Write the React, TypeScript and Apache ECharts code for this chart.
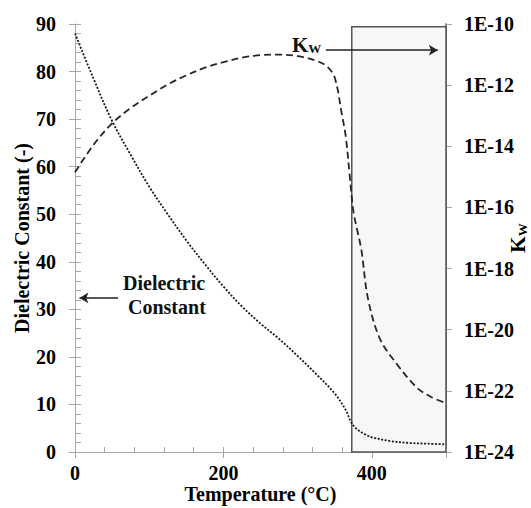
import React, { useEffect, useRef } from "react";
import * as echarts from "echarts";

// Dielectric constant of water vs temperature (°C)
const epsTemps = [0, 25, 50, 75, 100, 125, 150, 175, 200, 225, 250, 275, 300, 325, 350, 365, 372, 380, 390, 400, 425, 450, 475, 500];
const epsValues = [88, 78.5, 69.6, 62.5, 55.8, 50, 44.5, 39.5, 34.8, 30.6, 27.0, 23.8, 20.2, 16.4, 12.3, 8.8, 6.3, 4.8, 3.8, 3.1, 2.3, 1.9, 1.75, 1.6];

// Ionic product of water, stored as log10(Kw)
const kwTemps = [0, 25, 50, 75, 100, 125, 150, 175, 200, 225, 250, 275, 300, 325, 340, 350, 360, 365, 370, 375, 380, 386, 395, 411, 433, 461, 480, 500];
const log10Kw = [-14.85, -13.95, -13.25, -12.75, -12.35, -11.98, -11.68, -11.43, -11.25, -11.1, -11.02, -11.0, -11.05, -11.2, -11.4, -11.75, -13.0, -13.7, -14.9, -16.1, -16.7, -17.4, -19.0, -20.3, -21.1, -21.9, -22.2, -22.4];

// Supercritical region (°C) and axis extents
const criticalTemp = 373;
const xMax = 500;
const epsMax = 90;
const kwMinExp = -24;
const kwMaxExp = -10;

const FONT = "'Liberation Serif', 'Times New Roman', serif";

export default function App() {
  const ref = useRef<HTMLDivElement>(null);
  useEffect(() => {
    if (!ref.current) return;
    const chart = echarts.init(ref.current, null, { renderer: "svg" });
    const epsData = epsTemps.map((t, i) => [t, epsValues[i]]);
    const kwData = kwTemps.map((t, i) => [t, log10Kw[i]]);
    const axisGray = "#a8a8a8";
    const labelStyle = { color: "#000", fontFamily: FONT, fontWeight: "bold" as const, fontSize: 20 };

    chart.setOption({
      animation: false,
      backgroundColor: "#fff",
      grid: { left: 75, right: 85, top: 24, bottom: 56, outerBoundsMode: "none" },
      xAxis: [
        {
          type: "value", min: 0, max: xMax, interval: 200, position: "bottom",
          name: "Temperature (°C)", nameLocation: "middle", nameGap: 32, nameMoveOverlap: false,
          nameTextStyle: { ...labelStyle, fontSize: 20 },
          axisLine: { show: true, lineStyle: { color: axisGray, width: 1 } },
          axisTick: { show: true, inside: false, length: 6, lineStyle: { color: axisGray } },
          axisLabel: {
            ...labelStyle, margin: 11,
            formatter: (v: number) => (v % 200 === 0 ? String(v) : ""),
          },
          splitLine: { show: false },
        },
        {
          type: "value", min: 0, max: xMax, interval: 40, position: "bottom",
          axisLine: { show: false },
          axisTick: { show: true, inside: true, length: 5, lineStyle: { color: axisGray } },
          axisLabel: { show: false },
          splitLine: { show: false },
        },
      ],
      yAxis: [
        {
          type: "value", min: 0, max: epsMax, interval: 10, position: "left",
          name: "Dielectric Constant (-)", nameLocation: "middle", nameGap: 43, nameRotate: 90,
          nameMoveOverlap: false,
          nameTextStyle: { ...labelStyle, fontSize: 20 },
          axisLine: { show: true, lineStyle: { color: axisGray, width: 1 } },
          axisTick: { show: true, inside: false, length: 6, lineStyle: { color: axisGray } },
          axisLabel: { ...labelStyle, margin: 19 },
          splitLine: { show: false },
        },
        {
          type: "value", min: 0, max: epsMax, interval: 2, position: "left",
          axisLine: { show: false },
          axisTick: { show: true, inside: true, length: 6, lineStyle: { color: axisGray } },
          axisLabel: { show: false },
          splitLine: { show: false },
        },
        {
          type: "value", min: kwMinExp, max: kwMaxExp, interval: 2,
          position: "right",
          name: "{k|K}{w|W}", nameLocation: "middle", nameGap: 61, nameRotate: 90,
          nameMoveOverlap: false,
          nameTextStyle: {
            ...labelStyle,
            rich: {
              k: { fontFamily: FONT, fontWeight: "bold", fontSize: 21, color: "#000" },
              w: { fontFamily: FONT, fontWeight: "bold", fontSize: 13, color: "#000", padding: [9, 0, 0, 0] },
            },
          },
          axisLine: { show: true, lineStyle: { color: "#555", width: 1.5 } },
          axisTick: { show: true, inside: false, length: 6, lineStyle: { color: axisGray } },
          axisLabel: {
            ...labelStyle, margin: 18,
            formatter: (v: number) => "1E" + Math.round(v),
          },
          splitLine: { show: false },
        },
      ],
      series: [
        {
          name: "Dielectric Constant", type: "line", xAxisIndex: 0, yAxisIndex: 0,
          data: epsData, showSymbol: false, smooth: 0.35,
          lineStyle: { color: "#1a1a1a", width: 1.8, type: [2, 1.6] },
          z: 3,
          markArea: {
            silent: true,
            itemStyle: { color: "#f7f7f7", borderColor: "#555", borderWidth: 1.5 },
            data: [[{ coord: [criticalTemp, 0] }, { coord: [xMax, 89.4] }]],
          },
          markLine: {
            silent: true, symbol: ["none", "arrow"], symbolSize: [8, 9],
            label: { show: false },
            lineStyle: { color: "#222", width: 1.5, type: "solid" },
            data: [
              [{ coord: [58, 32.4] }, { coord: [6, 32.4] }],
              [{ coord: [338, 84.5] }, { coord: [489, 84.5] }],
            ],
          },
        },
        {
          name: "Kw", type: "line", xAxisIndex: 0, yAxisIndex: 2,
          data: kwData, showSymbol: false, smooth: 0.35,
          lineStyle: { color: "#262626", width: 1.8, type: [7, 4] },
          z: 4,
        },
      ],
      graphic: [
        {
          type: "text", left: 123, top: 271,
          style: { text: "Dielectric\n Constant", font: `bold 20px ${FONT}`, fill: "#111", lineHeight: 24, align: "left" },
        },
        {
          type: "text", x: 398, y: 103,
          style: { text: "Super-\ncritical\nRegion", font: `bold 20px ${FONT}`, fill: "#111", lineHeight: 25, align: "center", verticalAlign: "top" },
        },
        {
          type: "text", x: 292, y: 34,
          style: {
            text: "{k|K}{w|W}",
            rich: {
              k: { font: `bold 21px ${FONT}`, fill: "#111" },
              w: { font: `bold 13px ${FONT}`, fill: "#111", padding: [8, 0, 0, 0] },
            },
          },
        },
      ],
    });
    return () => chart.dispose();
  }, []);
  return <div ref={ref} style={{ position: "fixed", left: 0, top: 0, width: 531, height: 508 }} />;
}
